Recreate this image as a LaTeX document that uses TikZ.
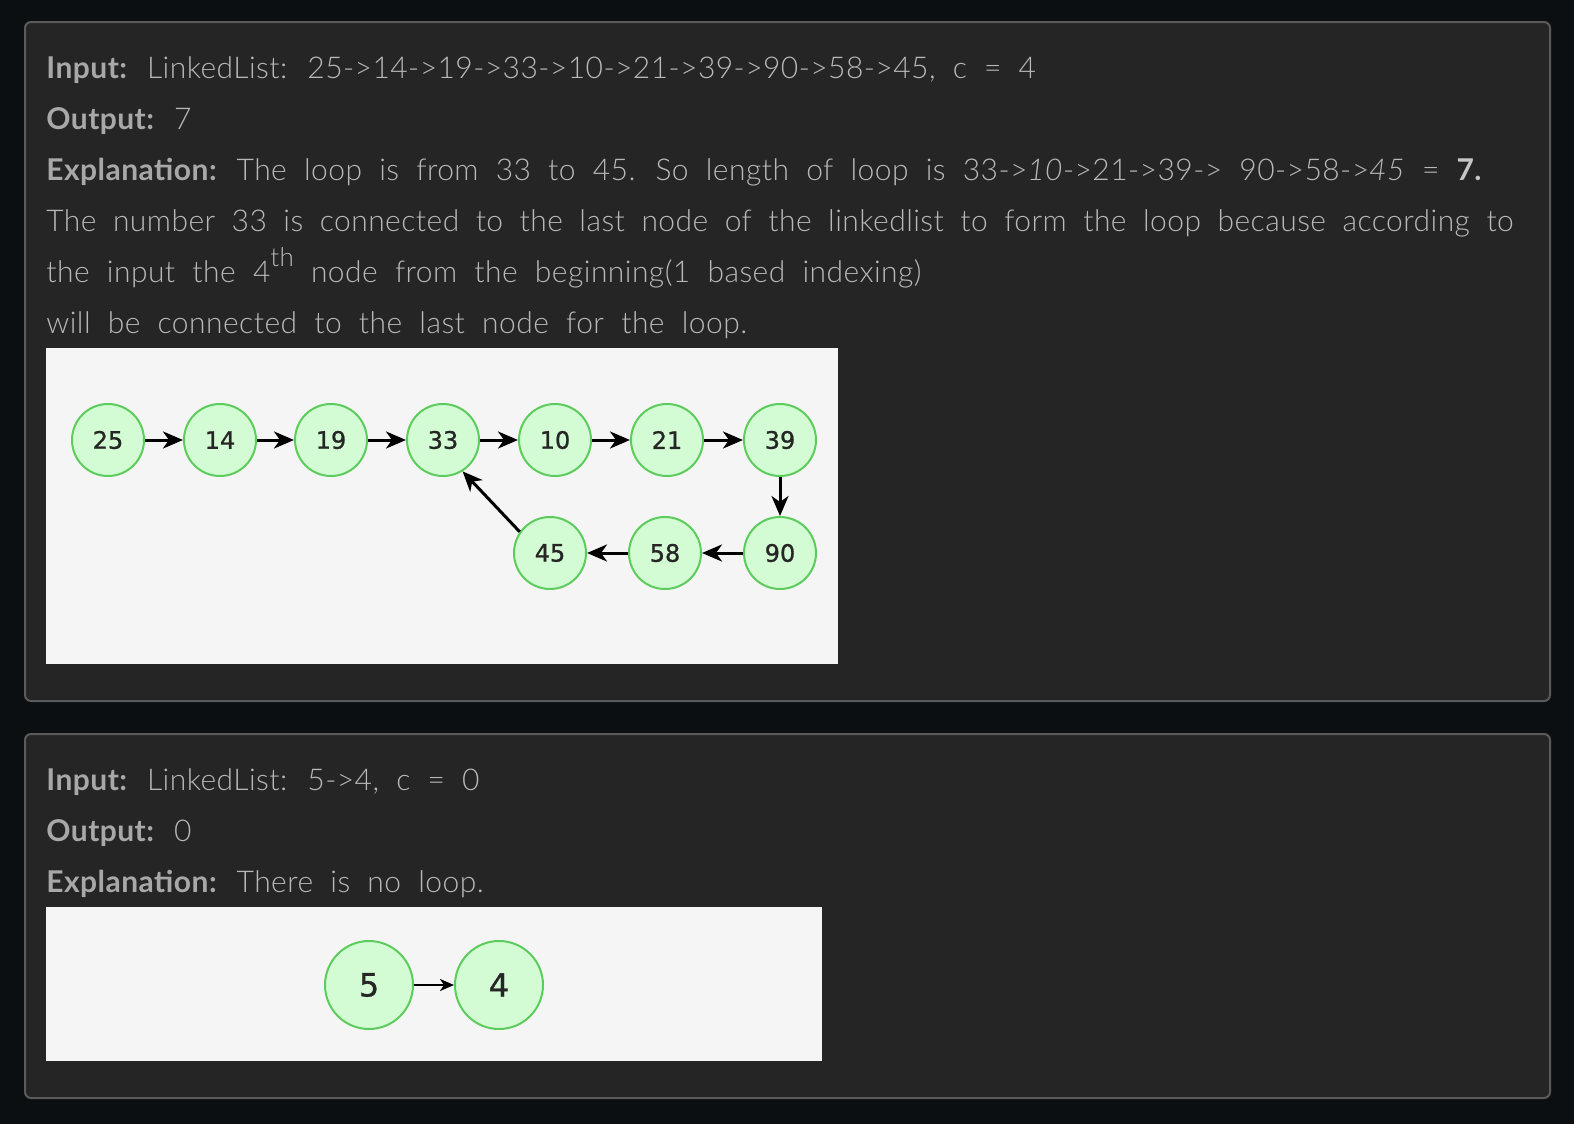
\documentclass[tikz,border=0pt]{standalone}
\usepackage{fontspec}
\IfFontExistsTF{Lato Light}{%
  \setmainfont[WordSpace=2.0,LetterSpace=1.5,BoldFont={Lato Bold},ItalicFont={Lato Light Italic}]{Lato Light}}{%
  \setmainfont[WordSpace=2.0,LetterSpace=1.5]{Lato}}
\newfontfamily\numfont[FakeBold=1]{DejaVu Sans}
\usetikzlibrary{arrows.meta}
\definecolor{pagebg}{HTML}{0B0F11}
\definecolor{panelbg}{HTML}{252525}
\definecolor{panelbd}{HTML}{5A5A5A}
\definecolor{imgbg}{HTML}{F5F5F5}
\definecolor{nodefill}{HTML}{D4FCD4}
\definecolor{nodebd}{HTML}{5CCC5C}
\definecolor{txtc}{HTML}{B8B8B8}
\definecolor{lblc}{HTML}{A8A8A8}
\newcommand{\lbl}[1]{{\bfseries\color{lblc}#1}}
\tikzset{
  panel/.style={fill=panelbg,draw=panelbd,line width=1pt,rounded corners=3pt},
  imgbox/.style={fill=imgbg,draw=none},
  txt/.style={anchor=base west,inner sep=0pt,text=txtc,font=\fontsize{15pt}{17pt}\selectfont},
  lnode/.style={circle,fill=nodefill,draw=nodebd,line width=1pt,minimum size=36pt,inner sep=0pt,font=\numfont\fontsize{12pt}{14pt}\selectfont,text=black!85},
  bnode/.style={circle,fill=nodefill,draw=nodebd,line width=1pt,minimum size=44pt,inner sep=0pt,font=\numfont\fontsize{16pt}{18pt}\selectfont,text=black!85},
  arr/.style={draw=black,line width=1.5pt,-{Stealth[length=10pt,width=8.5pt,inset=3pt]}},
  sarr/.style={draw=black,line width=1.1pt,-{Stealth[length=7pt,width=6pt,inset=2pt]}}
}
\begin{document}
\begin{tikzpicture}[x=0.5pt,y=-0.5pt]
\fill[pagebg] (0,0) rectangle (1574,1124);
\useasboundingbox (0,0) rectangle (1574,1124);
% panels
\draw[panel] (25,22) rectangle (1550,701);
\draw[panel] (25,734) rectangle (1550,1098);
% text panel 1
\node[txt] (l1) at (46,78) {\lbl{Input:} LinkedList: 25->14->19->33->10->21->39->90->58->45, c = 4};
\node[txt] (l2) at (46,129) {\lbl{Output:} 7};
\node[txt] (l3) at (46,180) {\lbl{Explanation:} The loop is from 33 to 45. So length of loop is 33->\textit{10}->21->39-> 90->58->\textit{45} = {\bfseries\color{txtc!80!white}7.}};
\node[txt] (l4) at (46,231) {\hbox to 733.5pt{The number 33 is connected to the last node of the linkedlist to form the loop because according to}};
\node[txt] (l5) at (46,282) {the input the 4\raisebox{8pt}{\fontsize{13pt}{14pt}\selectfont th} node from the beginning(1 based indexing)};
\node[txt] (l6) at (46,333) {will be connected to the last node for the loop.};
% image 1
\fill[imgbox] (46,348) rectangle (838,664);
\node[lnode] (n25) at (108,440) {25};
\node[lnode] (n14) at (220,440) {14};
\node[lnode] (n19) at (331,440) {19};
\node[lnode] (n33) at (443,440) {33};
\node[lnode] (n10) at (555,440) {10};
\node[lnode] (n21) at (667,440) {21};
\node[lnode] (n39) at (780,440) {39};
\node[lnode] (n90) at (780,553) {90};
\node[lnode] (n58) at (665,553) {58};
\node[lnode] (n45) at (550,553) {45};
\draw[arr] (n25) -- (n14);
\draw[arr] (n14) -- (n19);
\draw[arr] (n19) -- (n33);
\draw[arr] (n33) -- (n10);
\draw[arr] (n10) -- (n21);
\draw[arr] (n21) -- (n39);
\draw[arr] (n39) -- (n90);
\draw[arr] (n90) -- (n58);
\draw[arr] (n58) -- (n45);
\draw[arr] (n45.145) -- (n33.-58);
% text panel 2
\node[txt] (m1) at (46,790) {\lbl{Input:} LinkedList: 5->4, c = 0};
\node[txt] (m2) at (46,841) {\lbl{Output:} 0};
\node[txt] (m3) at (46,892) {\lbl{Explanation:} There is no loop.};
% image 2
\fill[imgbox] (46,907) rectangle (822,1061);
\node[bnode] (b5) at (369,985) {5};
\node[bnode] (b4) at (499,985) {4};
\draw[sarr] (b5) -- (b4);
\end{tikzpicture}
\end{document}
